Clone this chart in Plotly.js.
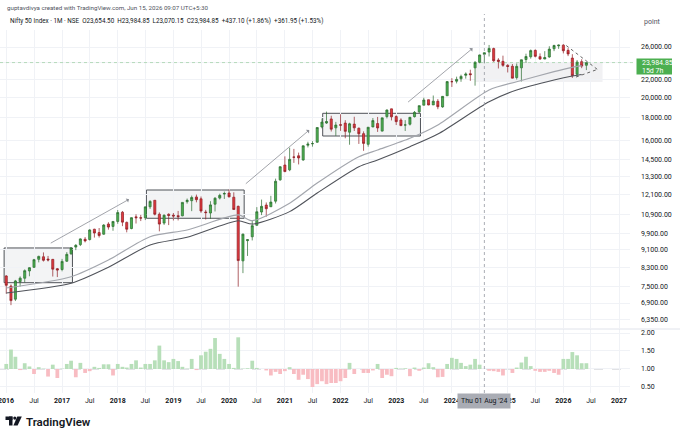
<!DOCTYPE html>
<html>
<head>
<meta charset="utf-8">
<script src="https://cdn.plot.ly/plotly-3.0.1.min.js"></script>
<style>html,body{margin:0;padding:0;background:#fff;}#chart{width:680px;height:436px;}</style>
</head>
<body>
<div id="chart"></div>
<script>
// ---------- DATA (monthly Nifty 50, Jan 2016 .. Jun 2026) ----------
const months = [];
for (let y = 2016; y <= 2026; y++) {
  for (let m = 1; m <= 12; m++) {
    if (y === 2026 && m > 6) break;
    months.push(y + '-' + String(m).padStart(2, '0') + '-01');
  }
}
const openP = [
  7939, 7536, 7040, 7713, 7847, 8149, 8301, 8654, 8769, 8666, 8653, 8244,
  8210, 8570, 8905, 9221, 9339, 9603, 9587, 10115, 9938, 9858, 10391, 10263,
  10532, 11045, 10479, 10151, 10783, 10738, 10732, 11360, 11751, 10930, 10441, 10930,
  10881, 10852, 10842, 11665, 11726, 11954, 11839, 11060, 11000, 11515, 11886, 12137,
  12202, 11939, 11388, 8585, 9533, 9726, 10323, 11057, 11464, 11364, 11697, 13062,
  14104, 13759, 14702, 14798, 14481, 15630, 15755, 15874, 17183, 17531, 17910, 17104,
  17388, 17530, 16723, 17437, 17068, 16594, 15704, 17186, 17486, 16818, 18130, 18871,
  18131, 17811, 17360, 17428, 18124, 18580, 19233, 19785, 19258, 19623, 19064, 20195,
  21727, 21780, 22049, 22455, 22637, 23338, 24010, 25030, 25333, 25788, 24305, 24140,
  23637, 23528, 22195, 23341, 24370, 24716, 25551, 24735, 24433, 24691, 25764, 26150,
  26250, 25550, 24550, 22570, 24100, 23654.50
];
const highP = [
  7973, 7600, 7778, 7922, 8214, 8308, 8674, 8819, 8969, 8807, 8669, 8275,
  8673, 8983, 9218, 9367, 9650, 9710, 10115, 10138, 10179, 10385, 10490, 10553,
  11172, 11117, 10525, 10759, 10930, 10893, 11366, 11760, 11752, 11035, 10922, 10985,
  11000, 11119, 11631, 11856, 12041, 12103, 11982, 11182, 11695, 11945, 12159, 12294,
  12430, 12246, 11433, 9889, 9598, 10554, 11341, 11794, 11618, 12025, 13146, 14025,
  14754, 15432, 15337, 15044, 15606, 15916, 15962, 17153, 17947, 18604, 18210, 17639,
  18351, 17794, 17560, 18115, 17132, 16794, 17172, 17992, 18096, 18022, 18816, 18888,
  18251, 17972, 17800, 18089, 18663, 19202, 19992, 19796, 20222, 19850, 20158, 21801,
  22124, 22297, 22527, 22795, 23111, 24174, 24999, 25268, 26277, 25908, 24538, 24858,
  23795, 23807, 23870, 24365, 25116, 25669, 25669, 25154, 25448, 26104, 26310, 26330,
  26380, 25850, 25050, 24300, 24400, 23984.85
];
const lowP = [
  7241, 6825, 6971, 7517, 7678, 7927, 8287, 8519, 8556, 8560, 7916, 7894,
  8133, 8537, 8860, 9075, 9270, 9448, 9543, 9686, 9688, 9831, 10094, 10034,
  10404, 10277, 9952, 10111, 10418, 10551, 10605, 11234, 10866, 10005, 10342, 10333,
  10584, 10586, 10817, 11549, 11108, 11626, 11011, 10637, 10670, 11090, 11802, 11832,
  11929, 11176, 7511, 8056, 8807, 9544, 10299, 10882, 10791, 11348, 11557, 13003,
  13596, 13662, 14264, 14151, 14417, 15451, 15513, 15835, 17055, 17452, 16782, 16410,
  16837, 16203, 15671, 16825, 15736, 15183, 15512, 17154, 16747, 16780, 17959, 17774,
  17353, 17255, 16828, 17312, 18042, 18465, 19230, 19224, 19255, 18837, 18974, 20183,
  21137, 21530, 21710, 22069, 21821, 21281, 23893, 23894, 24754, 24073, 23263, 23460,
  22787, 22105, 21965, 21744, 23936, 24474, 24636, 24337, 24404, 24588, 25448, 25750,
  25150, 24800, 22150, 22300, 23300, 23070.15
];
const closeP = [
  7563, 6987, 7738, 7850, 8160, 8288, 8639, 8786, 8611, 8626, 8224, 8186,
  8561, 8880, 9174, 9304, 9621, 9521, 10077, 9918, 9789, 10335, 10227, 10531,
  11028, 10493, 10114, 10739, 10736, 10714, 11357, 11681, 10930, 10387, 10877, 10863,
  10831, 10793, 11624, 11748, 11923, 11789, 11118, 11023, 11474, 11877, 12056, 12168,
  11962, 11202, 8598, 9860, 9580, 10302, 11073, 11388, 11248, 11642, 12969, 13982,
  13635, 14529, 14691, 14631, 15583, 15722, 15763, 17132, 17618, 17672, 16983, 17354,
  17340, 16794, 17465, 17103, 16585, 15780, 17158, 17759, 17094, 18012, 18758, 18105,
  17662, 17304, 17360, 18065, 18534, 19189, 19754, 19254, 19638, 19080, 20133, 21731,
  21726, 21983, 22327, 22605, 22531, 24011, 24951, 25236, 25811, 24205, 24131, 23645,
  23508, 22125, 23519, 24334, 24751, 25517, 24768, 24427, 24611, 25722, 26203, 26250,
  25500, 25080, 22400, 24050, 23547.75, 23984.85
];
// lower-pane oscillator (level around 1.00)
const oscValues = [
  1.14, 1.54, 1.34, 0.97, 1.16, 1.07, 0.86, 1.05, 1.01, 0.79, 1.12, 0.75,
  1.01, 1.14, 1.23, 0.77, 1.17, 0.89, 0.94, 1.06, 1.03, 1.13, 1.13, 0.82,
  1.14, 1.06, 1.04, 1.14, 1.24, 1.04, 1.14, 1.14, 1.24, 1.65, 1.24, 1.19,
  1.28, 1.22, 1.06, 1.01, 1.28, 0.97, 1.38, 1.48, 1.56, 1.86, 1.42, 1.28,
  1.14, 1.03, 1.88, 1.01, 1.02, 1.23, 1.03, 1.00, 0.96, 0.82, 0.92, 0.86,
  0.94, 1.05, 0.86, 0.70, 0.84, 0.72, 0.50, 0.58, 0.66, 0.58, 0.61, 0.61,
  0.66, 0.75, 1.17, 0.86, 1.00, 0.89, 0.89, 0.96, 1.14, 0.75, 0.84, 0.80,
  1.03, 1.01, 1.02, 0.80, 1.04, 0.95, 1.04, 1.16, 1.05, 0.77, 0.78, 1.14,
  1.31, 1.28, 1.17, 1.08, 1.12, 1.28, 1.12, 1.00, 0.95, 0.94, 0.92, 0.82,
  1.00, 0.89, 1.04, 1.18, 1.34, 1.08, 0.95, 0.92, 0.92, 0.95, 0.89, 0.84,
  1.28, 1.28, 1.47, 1.38, 1.16, 1.16
];
// two moving-average lines
const maDates = ['2016-01-01','2017-03-01','2017-11-01','2018-08-01','2019-04-01','2020-03-01','2020-06-01','2021-02-01','2021-08-01','2022-05-01','2022-09-01','2023-04-01','2023-10-01','2024-09-01','2025-03-01','2025-11-01','2026-03-01','2026-05-01'];
const maUpper = [7460, 7909, 8624, 9730, 10075, 10890, 10570, 11570, 12850, 14730, 15250, 16200, 17360, 20810, 21720, 22880, 23400, 23600];
const maLower = [7267, 7642, 8305, 9320, 9700, 10570, 10390, 11080, 12200, 13980, 14480, 15510, 16560, 19580, 20810, 21910, 22370, 22550];

// tick labels
const priceTicks = [6350, 6900, 7500, 8300, 9100, 9900, 10900, 12100, 13300, 14500, 16000, 18000, 20000, 22000, 24000, 26000];
const priceTickText = ['6,350.00','6,900.00','7,500.00','8,300.00','9,100.00','9,900.00','10,900.00','12,100.00','13,300.00','14,500.00','16,000.00','18,000.00','20,000.00','22,000.00','','26,000.00'];
const timeTicks = [];
const timeLabels = [];
for (let y = 2016; y <= 2027; y++) {
  timeTicks.push(y + '-01-01'); timeLabels.push('<b>' + y + '</b>');
  if (y < 2027) { timeTicks.push(y + '-07-01'); timeLabels.push('Jul'); }
}
const oscTicks = [0.5, 1, 1.5, 2];
const oscTickText = ['0.50', '1.00', '1.50', '2.00'];
const lastPrice = 23984.85;

// ---------- drawings ----------
const L = v => Math.log10(v);
const W = 680, H = 436;
const px = x => x / W;
const py = y => 1 - y / H;

const boxes = [
  ['2015-12-18', '2017-03-10', 7667, 9178],
  ['2018-07-08', '2020-04-09', 10705, 12394],
  ['2021-09-06', '2023-06-09', 16395, 18441]
];
const arrows = [
  ['2016-10-09', 9371, '2018-03-16', 11810],
  ['2020-04-10', 12720, '2021-06-10', 16910],
  ['2023-03-10', 19420, '2024-05-16', 25825]
];

const shapes = [];
boxes.forEach(b => shapes.push({type:'rect', xref:'x', yref:'y', x0:b[0], x1:b[1], y0:b[2], y1:b[3],
  fillcolor:'rgba(170,174,184,0.14)', line:{color:'#4f5258', width:1}, layer:'below'}));
// grey zone at right
shapes.push({type:'rect', xref:'x', yref:'y', x0:'2024-06-01', x1:'2026-09-15', y0:21700, y1:24000,
  fillcolor:'rgba(190,193,200,0.22)', line:{width:0}, layer:'below'});
// triangle
shapes.push({type:'line', xref:'x', yref:'y', x0:'2026-01-20', y0:26200, x1:'2026-08-12', y1:23150, line:{color:'#555', width:0.9, dash:'dot'}});
shapes.push({type:'line', xref:'x', yref:'y', x0:'2026-03-25', y0:22250, x1:'2026-08-12', y1:23150, line:{color:'#555', width:0.9, dash:'dot'}});
// last price dotted line
shapes.push({type:'line', xref:'paper', yref:'y', x0:0, x1:px(636), y0:lastPrice, y1:lastPrice, line:{color:'rgba(76,175,80,0.6)', width:0.6, dash:'dot'}});
// oscillator baseline
shapes.push({type:'line', xref:'paper', yref:'y2', x0:0, x1:px(630), y0:1, y1:1, line:{color:'#b2b5be', width:0.8, dash:'dash'}, layer:'below'});
// crosshair
shapes.push({type:'line', xref:'x', yref:'paper', x0:'2024-08-01', x1:'2024-08-01', y0:py(393), y1:py(14), line:{color:'#9598a1', width:0.8, dash:'dot'}});
// pane separator
shapes.push({type:'line', xref:'paper', yref:'paper', x0:0, x1:1, y0:py(329), y1:py(329), line:{color:'#e0e3eb', width:1}});
// price label box
shapes.push({type:'rect', xref:'paper', yref:'paper', x0:px(636.5), x1:px(672), y0:py(74.5), y1:py(58.5), fillcolor:'#4caf50', line:{width:0}});
// TradingView logo glyph
shapes.push({type:'rect', xref:'paper', yref:'paper', x0:px(5.5), x1:px(12.5), y0:py(420), y1:py(416.5), fillcolor:'#131722', line:{width:0}});
shapes.push({type:'rect', xref:'paper', yref:'paper', x0:px(9), x1:px(12.5), y0:py(425.5), y1:py(416.5), fillcolor:'#131722', line:{width:0}});
shapes.push({type:'circle', xref:'paper', yref:'paper', x0:px(13.2), x1:px(16.4), y0:py(419.7), y1:py(416.5), fillcolor:'#131722', line:{width:0}});
shapes.push({type:'path', xref:'paper', yref:'paper',
  path:'M ' + px(17.3) + ',' + py(416.5) + ' L ' + px(21.8) + ',' + py(416.5) + ' L ' + px(17.6) + ',' + py(425.5) + ' L ' + px(13.4) + ',' + py(425.5) + ' Z',
  fillcolor:'#131722', line:{width:0}});

const annotations = [];
arrows.forEach(a => annotations.push({xref:'x', yref:'y', axref:'x', ayref:'y', x:a[2], y:L(a[3]), ax:a[0], ay:L(a[1]),
  text:'', showarrow:true, arrowhead:1, arrowsize:1, arrowwidth:0.8, arrowcolor:'#8a8d94'}));
annotations.push({xref:'paper', yref:'paper', x:px(5), y:py(7.5), xanchor:'left', yanchor:'middle', showarrow:false,
  text:'guptavdivya created with TradingView.com, Jun 15, 2026 09:07 UTC+5:30', font:{size:6.2, color:'#50535e'}});
annotations.push({xref:'paper', yref:'paper', x:px(8), y:py(21.5), xanchor:'left', yanchor:'middle', showarrow:false,
  text:'Nifty 50 Index · 1M · NSE  O23,654.50  H23,984.85  L23,070.15  C23,984.85  +437.10 (+1.86%)  +361.95 (+1.53%)', font:{size:6.3, color:'#131722'}});
annotations.push({xref:'paper', yref:'paper', x:px(642), y:py(22), xanchor:'left', yanchor:'middle', showarrow:false,
  text:'point', font:{size:7, color:'#50535e'}});
annotations.push({xref:'paper', yref:'paper', x:px(640), y:py(63), xanchor:'left', yanchor:'middle', showarrow:false,
  text:'23,984.85', font:{size:7, color:'#ffffff'}});
annotations.push({xref:'paper', yref:'paper', x:px(640), y:py(70.5), xanchor:'left', yanchor:'middle', showarrow:false,
  text:'15d 7h', font:{size:7, color:'#ffffff'}});
annotations.push({xref:'x', yref:'paper', x:'2016-01-01', y:py(401), xanchor:'center', yanchor:'middle', showarrow:false,
  text:'<b>2016</b>', font:{size:7, color:'#131722'}});
annotations.push({xref:'x', yref:'paper', x:'2024-08-01', y:py(401), xanchor:'center', yanchor:'middle', showarrow:false,
  text:"Thu 01 Aug '24", font:{size:7, color:'#131722'}, bgcolor:'#a9acb4', borderpad:3});
annotations.push({xref:'paper', yref:'paper', x:px(24), y:py(421.5), xanchor:'left', yanchor:'middle', showarrow:false,
  text:'TradingView', font:{size:11.5, color:'#131722', weight:600}});

// ---------- traces ----------
const traces = [
  {type:'scatter', mode:'lines', x:maDates, y:maUpper, xaxis:'x', yaxis:'y', line:{color:'#a3a6ad', width:1.2, shape:'spline', smoothing:0.7}, hoverinfo:'skip'},
  {type:'scatter', mode:'lines', x:maDates, y:maLower, xaxis:'x', yaxis:'y', line:{color:'#50535a', width:1.1, shape:'spline', smoothing:0.7}, hoverinfo:'skip'},
  {type:'candlestick', x:months, open:openP, high:highP, low:lowP, close:closeP, xaxis:'x', yaxis:'y',
    increasing:{line:{color:'#2a6b2e', width:0.7}, fillcolor:'#4caf50'},
    decreasing:{line:{color:'#8e1c22', width:0.7}, fillcolor:'#e0393f'},
    whiskerwidth:0, hoverinfo:'skip'},
  {type:'bar', x:months, y:oscValues.map(v => v - 1), base:1, xaxis:'x', yaxis:'y2',
    marker:{color:oscValues.map(v => v >= 1 ? '#b7dfb9' : '#f8bcc2'), line:{width:0}}, hoverinfo:'skip'}
];

const grid = '#f0f2f6';
const layout = {
  width:W, height:H, margin:{l:0, r:0, t:0, b:0},
  paper_bgcolor:'#ffffff', plot_bgcolor:'#ffffff',
  showlegend:false, hovermode:false, bargap:0.12,
  font:{family:'Roboto, "Noto Sans", sans-serif', color:'#131722'},
  xaxis:{type:'date', domain:[0, px(630)], range:['2015-11-21','2027-03-14'], anchor:'y2',
    tickmode:'array', tickvals:timeTicks, ticktext:timeLabels, tickfont:{size:7, color:'#131722'},
    showgrid:true, gridcolor:grid, gridwidth:1, zeroline:false, showline:false, ticks:'',
    rangeslider:{visible:false}, ticklabelstandoff:2},
  yaxis:{type:'log', domain:[py(328), py(30)], range:[L(6063), L(28394)], side:'right', anchor:'x',
    tickmode:'array', tickvals:priceTicks, ticktext:priceTickText, tickfont:{size:7, color:'#131722'},
    showgrid:true, gridcolor:grid, zeroline:false, showline:false, ticks:'', ticklabelstandoff:10},
  yaxis2:{domain:[py(393), py(329)], range:[0.333, 2.111], side:'right', anchor:'x',
    tickmode:'array', tickvals:oscTicks, ticktext:oscTickText, tickfont:{size:7, color:'#131722'},
    showgrid:true, gridcolor:grid, zeroline:false, showline:false, ticks:'', ticklabelstandoff:10},
  shapes:shapes, annotations:annotations
};

Plotly.newPlot('chart', traces, layout, {staticPlot:true, displayModeBar:false});
</script>
</body>
</html>
